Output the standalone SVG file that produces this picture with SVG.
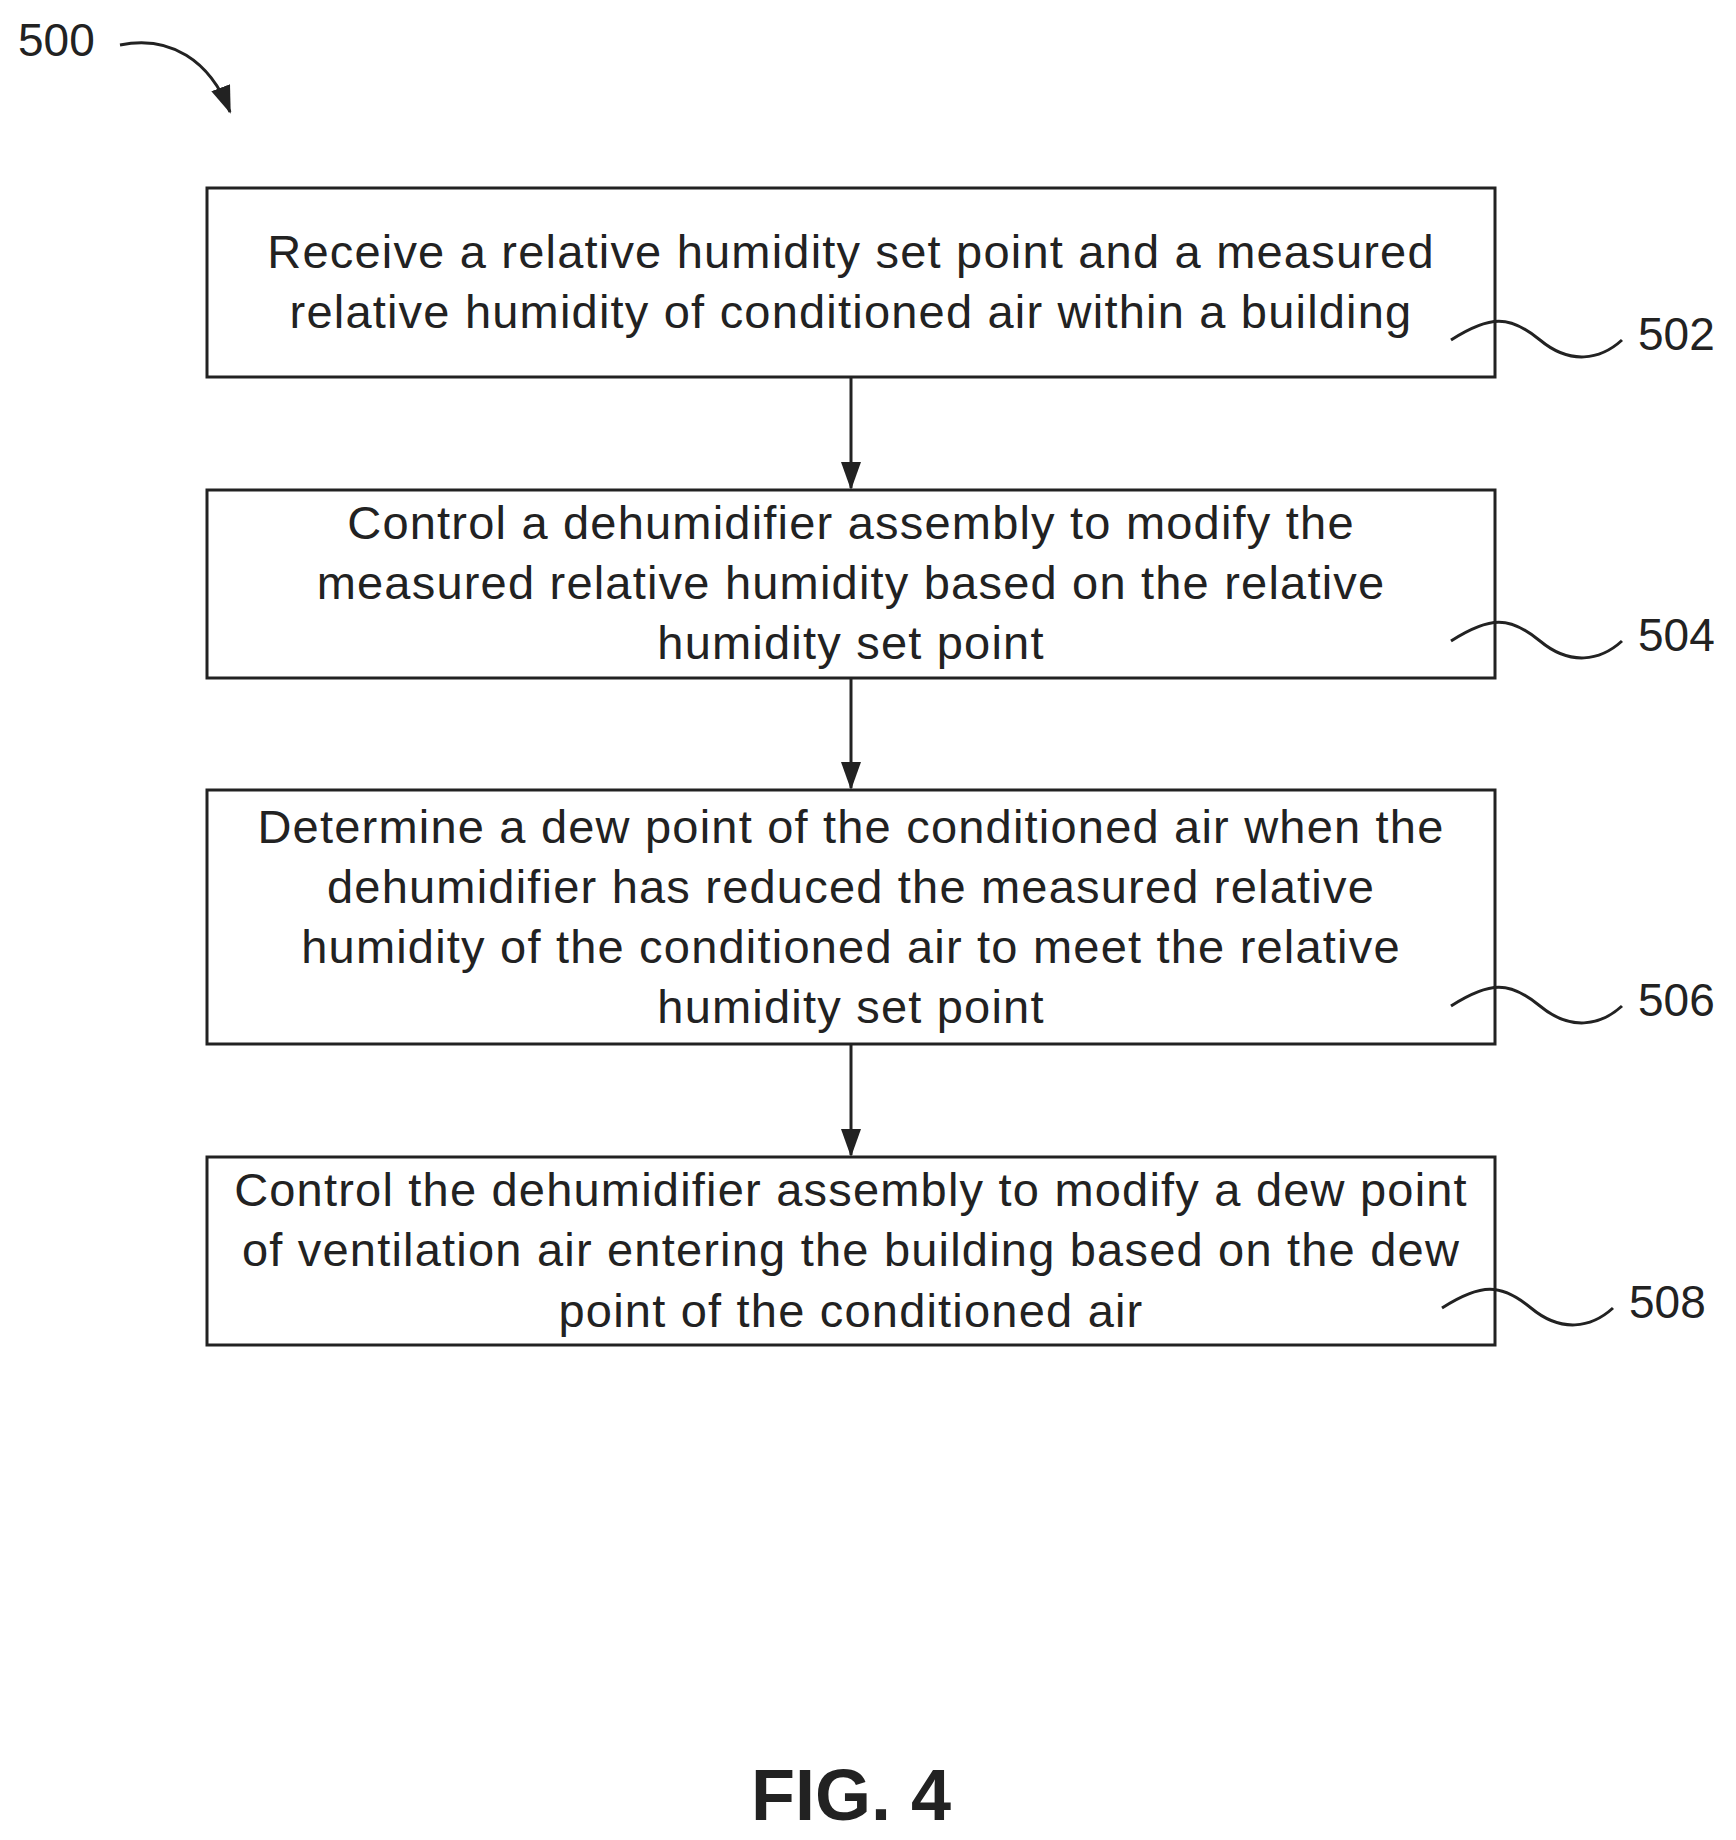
<svg xmlns="http://www.w3.org/2000/svg" width="1736" height="1840" viewBox="0 0 1736 1840">
<style>
.box{fill:#fff;stroke:#222;stroke-width:3}
.t{font-family:"Liberation Sans",Arial,sans-serif;font-size:47px;letter-spacing:1.2px;fill:#222;text-anchor:middle}
.l{font-family:"Liberation Sans",Arial,sans-serif;font-size:46px;fill:#222}
.ln{fill:none;stroke:#222;stroke-width:3}
</style>
<defs>
<marker id="ah2" markerWidth="28" markerHeight="28" refX="26" refY="14" orient="auto" markerUnits="userSpaceOnUse"><path d="M0,4 L28,14 L0,24 z" fill="#222"/></marker></defs>
<rect width="1736" height="1840" fill="#fff"/>
<text class="l" x="18" y="56">500</text>
<path class="ln" d="M120,45 C170,35 210,60 230,112" marker-end="url(#ah2)"/>
<g id="n502"><rect class="box" x="207" y="188" width="1288" height="189"/>
<text class="t" x="851" y="268">Receive a relative humidity set point and a measured</text>
<text class="t" x="851" y="328">relative humidity of conditioned air within a building</text></g>
<g id="n504"><rect class="box" x="207" y="490" width="1288" height="188"/>
<text class="t" x="851" y="539">Control a dehumidifier assembly to modify the</text>
<text class="t" x="851" y="599">measured relative humidity based on the relative</text>
<text class="t" x="851" y="659">humidity set point</text></g>
<g id="n506"><rect class="box" x="207" y="790" width="1288" height="254"/>
<text class="t" x="851" y="843">Determine a dew point of the conditioned air when the</text>
<text class="t" x="851" y="903">dehumidifier has reduced the measured relative</text>
<text class="t" x="851" y="963">humidity of the conditioned air to meet the relative</text>
<text class="t" x="851" y="1023">humidity set point</text></g>
<g id="n508"><rect class="box" x="207" y="1157" width="1288" height="188"/>
<text class="t" x="851" y="1206">Control the dehumidifier assembly to modify a dew point</text>
<text class="t" x="851" y="1266">of ventilation air entering the building based on the dew</text>
<text class="t" x="851" y="1327">point of the conditioned air</text></g>
<g id="labels">
<path class="ln" d="M1451,340 C1490,315 1510,315 1540,340 S1600,360 1622,340"/>
<text class="l" x="1638" y="350">502</text>
<path class="ln" d="M1451,641 C1490,616 1510,616 1540,641 S1600,661 1622,641"/>
<text class="l" x="1638" y="651">504</text>
<path class="ln" d="M1451,1006 C1490,981 1510,981 1540,1006 S1600,1026 1622,1006"/>
<text class="l" x="1638" y="1016">506</text>
<path class="ln" d="M1442,1308 C1481,1283 1501,1283 1531,1308 S1591,1328 1613,1308"/>
<text class="l" x="1629" y="1318">508</text>
</g>
<g id="connectors">
<line class="ln" x1="851" y1="377" x2="851" y2="488" marker-end="url(#ah2)"/>
<line class="ln" x1="851" y1="678" x2="851" y2="788" marker-end="url(#ah2)"/>
<line class="ln" x1="851" y1="1044" x2="851" y2="1155" marker-end="url(#ah2)"/>
</g>
<text x="851" y="1820" style="font-family:'Liberation Sans',Arial,sans-serif;font-size:72px;font-weight:bold;fill:#222;text-anchor:middle">FIG. 4</text>
</svg>
